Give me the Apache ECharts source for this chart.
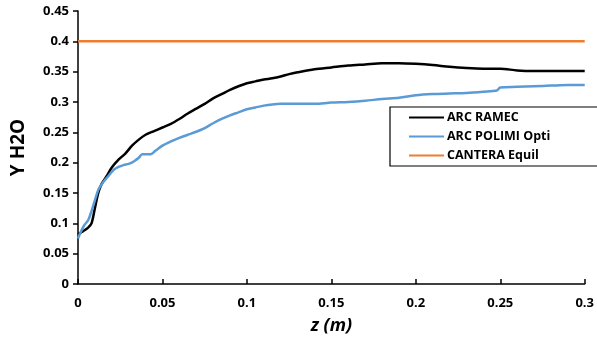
<!DOCTYPE html>
<html><head><meta charset="utf-8">
<script src="https://cdn.jsdelivr.net/npm/echarts@6/dist/echarts.min.js"></script>
<style>html,body{margin:0;padding:0;background:#fff}#c{width:597px;height:345px}</style>
</head><body><div id="c"></div>
<script>
const seriesNames = ["ARC RAMEC", "ARC POLIMI Opti", "CANTERA Equil"];
const zRamec = [0,0.003,0.006,0.008,0.010,0.012,0.014,0.017,0.020,0.024,0.028,0.032,0.036,0.040,0.045,0.050,0.055,0.060,0.065,0.070,0.075,0.080,0.085,0.090,0.095,0.100,0.105,0.110,0.115,0.120,0.125,0.130,0.140,0.150,0.160,0.170,0.180,0.190,0.200,0.210,0.220,0.230,0.240,0.250,0.260,0.270,0.280,0.290,0.300];
const yRamec = [0.082,0.087,0.093,0.100,0.125,0.150,0.165,0.178,0.192,0.205,0.215,0.228,0.238,0.246,0.252,0.258,0.264,0.272,0.281,0.289,0.297,0.306,0.313,0.320,0.326,0.331,0.334,0.337,0.339,0.342,0.346,0.349,0.354,0.357,0.360,0.362,0.364,0.364,0.363,0.361,0.358,0.356,0.355,0.355,0.352,0.351,0.351,0.351,0.351];
const zPolimi = [0,0.002,0.004,0.006,0.008,0.010,0.012,0.015,0.018,0.021,0.024,0.027,0.030,0.033,0.036,0.038,0.043,0.046,0.050,0.055,0.060,0.065,0.070,0.075,0.080,0.085,0.090,0.095,0.100,0.105,0.110,0.115,0.120,0.125,0.130,0.140,0.150,0.160,0.170,0.180,0.190,0.200,0.210,0.220,0.230,0.240,0.248,0.250,0.260,0.270,0.280,0.290,0.300];
const yPolimi = [0.075,0.088,0.098,0.105,0.120,0.138,0.155,0.168,0.178,0.188,0.193,0.196,0.198,0.202,0.208,0.214,0.214,0.220,0.228,0.235,0.241,0.246,0.251,0.257,0.265,0.272,0.278,0.283,0.288,0.291,0.294,0.296,0.297,0.297,0.297,0.297,0.299,0.300,0.302,0.305,0.307,0.311,0.313,0.314,0.315,0.317,0.319,0.324,0.325,0.326,0.327,0.328,0.328];
const zCantera = [0, 0.3];
const yCantera = [0.4, 0.4];

const pair = (zs, ys) => zs.map((z, i) => [z, ys[i]]);
const font = '"Open Sans", "Liberation Sans", sans-serif';
const chart = echarts.init(document.getElementById('c'), null, {renderer: 'canvas'});
chart.setOption({
  animation: false,
  backgroundColor: '#fff',
  grid: {left: 78, right: 12, top: 11, bottom: 61},
  legend: {
    orient: 'vertical', left: 390, top: 107,
    padding: [4, 56, 4, 19],
    borderColor: '#000', borderWidth: 1.2, backgroundColor: '#fff',
    itemWidth: 35, itemHeight: 2, itemGap: 6, icon: 'rect',
    textStyle: {fontFamily: font, fontWeight: 'bold', fontSize: 12.5, color: '#000', padding: [0,0,0,-2]},
    data: seriesNames
  },
  xAxis: {
    type: 'value', min: 0, max: 0.3, interval: 0.05,
    name: 'z (m)', nameLocation: 'middle', nameGap: 33,
    nameTextStyle: {fontFamily: font, fontWeight: 'bold', fontStyle: 'italic', fontSize: 18, color: '#000'},
    axisLine: {lineStyle: {color: '#000', width: 1.5}},
    axisTick: {inside: true, length: 5, lineStyle: {color: '#000', width: 1.5}},
    axisLabel: {fontFamily: font, fontWeight: 'bold', fontSize: 13, color: '#000', margin: 13},
    splitLine: {show: false}
  },
  yAxis: {
    type: 'value', min: 0, max: 0.45, interval: 0.05,
    name: 'Y H2O', nameLocation: 'middle', nameGap: 50, nameRotate: 90,
    nameTextStyle: {fontFamily: font, fontWeight: 'bold', fontSize: 19, color: '#000'},
    axisLine: {show: true, lineStyle: {color: '#000', width: 1.5}},
    axisTick: {show: true, length: 5, lineStyle: {color: '#000', width: 1.5}},
    axisLabel: {fontFamily: font, fontWeight: 'bold', fontSize: 13, color: '#000', margin: 9},
    splitLine: {show: false}
  },
  series: [
    {name: seriesNames[0], type: 'line', data: pair(zRamec, yRamec), showSymbol: false, smooth: 0.3, lineStyle: {color: '#000', width: 2.5}, itemStyle: {color: '#000'}, z: 3},
    {name: seriesNames[1], type: 'line', data: pair(zPolimi, yPolimi), showSymbol: false, smooth: 0.3, lineStyle: {color: '#5B9BD5', width: 2.5}, itemStyle: {color: '#5B9BD5'}, z: 4},
    {name: seriesNames[2], type: 'line', data: pair(zCantera, yCantera), showSymbol: false, lineStyle: {color: '#ED7D31', width: 2.5}, itemStyle: {color: '#ED7D31'}, z: 2}
  ]
});
</script></body></html>
